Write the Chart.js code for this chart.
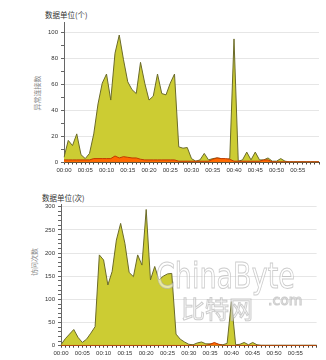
<!DOCTYPE html>
<html>
<head>
<meta charset="utf-8">
<script src="https://cdn.jsdelivr.net/npm/chart.js@4.4.1/dist/chart.umd.min.js"></script>
<style>
  body { margin: 0; background: #fff; width: 326px; height: 360px; overflow: hidden; position: relative; font-family: "Noto Sans CJK SC", sans-serif; }
  .box { position: absolute; left: 0; width: 326px; height: 180px; }
  .unit { position: absolute; font-size: 7.5px; color: #333; white-space: nowrap; }
  .ytitle { position: absolute; font-size: 7px; color: #888; white-space: nowrap; transform: translate(-50%, -50%) rotate(-90deg); }
  .wm { position: absolute; color: rgba(255,255,255,0.55); -webkit-text-stroke: 1px rgba(170,170,170,0.6); white-space: nowrap; pointer-events: none; line-height: 1; }
</style>
</head>
<body>
<div class="unit" style="left:45px;top:9px">数据单位(个)</div>
<div class="ytitle" style="left:37px;top:93px">异常连接数</div>
<div class="box" style="top:0"><canvas id="connChart"></canvas></div>

<div class="unit" style="left:42px;top:192px">数据单位(次)</div>
<div class="ytitle" style="left:34px;top:262px">访问次数</div>
<div class="box" style="top:180px"><canvas id="visitChart"></canvas></div>

<div class="wm" style="left:156px;top:255px;font:36px 'DejaVu Sans', sans-serif;transform:scaleX(0.75);transform-origin:left top">ChinaByte</div>
<div class="wm" style="left:181px;top:290px;font:24px 'Noto Sans CJK SC', sans-serif">比特网</div>
<div class="wm" style="left:268px;top:292px;font:14px 'DejaVu Sans', sans-serif">.com</div>

<script>
// 每分钟一个点, 00:00 - 01:00
const minutes = [
  '00:00','00:01','00:02','00:03','00:04','00:05','00:06','00:07','00:08','00:09',
  '00:10','00:11','00:12','00:13','00:14','00:15','00:16','00:17','00:18','00:19',
  '00:20','00:21','00:22','00:23','00:24','00:25','00:26','00:27','00:28','00:29',
  '00:30','00:31','00:32','00:33','00:34','00:35','00:36','00:37','00:38','00:39',
  '00:40','00:41','00:42','00:43','00:44','00:45','00:46','00:47','00:48','00:49',
  '00:50','00:51','00:52','00:53','00:54','00:55','00:56','00:57','00:58','00:59',
  '01:00'
];
const tickLabels = ['00:00','00:05','00:10','00:15','00:20','00:25','00:30','00:35','00:40','00:45','00:50','00:55'];

// 上图: 异常连接数 (个)
const connMain = [
  4, 17, 13, 22, 6, 3, 7, 22, 45, 61,
  68, 48, 84, 98, 79, 62, 56, 53, 77, 61,
  48, 51, 68, 53, 52, 61, 68, 12, 11, 11.5,
  3, 1, 2, 7, 2, 3, 3.5, 3, 2, 3,
  95, 1, 2, 8, 2, 8, 2, 2, 3.5, 1,
  1, 3, 1, 0.5, 0.5, 0.5, 0.5, 0.5, 0.5, 0.5,
  0.5
];
const connSub = [
  2, 2, 2, 2, 2, 2, 2, 3, 3, 3,
  3, 3, 5, 3.5, 4.5, 4, 3.5, 3.5, 2.5, 2,
  2, 2, 2, 2, 2, 2, 2, 1, 1, 1,
  1, 1, 1, 1, 1, 2.5, 3.5, 3, 3, 2.5,
  1, 1, 1, 1, 1, 1, 1, 2, 2, 0.5,
  0.5, 0.5, 0.5, 0.5, 0.5, 0.5, 0.5, 0.5, 0.5, 0.5,
  0.5
];

// 下图: 访问次数 (次)
const visitMain = [
  2, 15, 25, 35, 18, 7, 14, 27, 41, 196,
  185, 131, 160, 228, 264, 221, 158, 149, 196, 174,
  294, 142, 171, 142, 150, 155, 156, 25, 14, 8,
  3, 2, 6, 8, 4, 4, 5, 3, 2, 5,
  95, 2, 3, 7, 2, 7, 2, 1, 1, 1,
  1, 1, 1, 1, 1, 1, 1, 1, 1, 1,
  1
];
const visitSub = [
  0.5, 0.5, 0.5, 0.5, 0.5, 0.5, 0.5, 0.5, 0.5, 0.5,
  0.5, 0.5, 0.5, 0.5, 0.5, 0.5, 0.5, 0.5, 0.5, 0.5,
  0.5, 0.5, 0.5, 0.5, 0.5, 0.5, 0.5, 0.5, 0.5, 0.5,
  0.5, 0.5, 0.5, 0.5, 0.5, 3, 7, 3, 0.5, 0.5,
  0.5, 0.5, 0.5, 0.5, 0.5, 0.5, 0.5, 0.5, 0.5, 0.5,
  0.5, 0.5, 0.5, 0.5, 0.5, 0.5, 0.5, 0.5, 0.5, 0.5,
  0.5
];

Chart.defaults.font.family = '"Liberation Sans", Arial, sans-serif';
Chart.defaults.animation = false;

function drawArea(id, main, sub, opt) {
  new Chart(document.getElementById(id), {
    type: 'line',
    data: {
      labels: minutes,
      datasets: [
        { data: sub, order: 0, fill: 'origin', borderColor: '#c03a00', backgroundColor: '#ff6a00', borderWidth: 1, pointRadius: 0, tension: 0 },
        { data: main, order: 1, fill: 'origin', borderColor: '#6b6b2a', backgroundColor: '#cccc33', borderWidth: 1, pointRadius: 0, tension: 0 }
      ]
    },
    options: {
      responsive: false,
      maintainAspectRatio: false,
      layout: { padding: { left: 0, right: opt.right, top: opt.top, bottom: 0 } },
      plugins: { legend: { display: false }, tooltip: { enabled: false } },
      scales: {
        x: {
          afterFit: (s) => { s.height = opt.xh; },
          grid: { color: 'transparent', tickColor: '#444', tickLength: 2, drawOnChartArea: false },
          border: { color: '#444', width: 1 },
          ticks: {
            autoSkip: false, maxRotation: 0, padding: 2, color: '#333', font: { size: 6 },
            callback: (v, i) => tickLabels.includes(minutes[i]) ? minutes[i] : ''
          }
        },
        y: {
          min: 0, max: opt.max,
          afterFit: (s) => { s.width = opt.left; },
          grid: {
            color: (c) => (c.tick && c.tick.value % opt.major === 0 && c.tick.value > 0) ? '#e6e6e6' : 'transparent',
            tickColor: '#666', tickLength: 3
          },
          border: { color: '#666', width: 1 },
          ticks: {
            stepSize: opt.minor, includeBounds: false, autoSkip: false, maxTicksLimit: 100,
            padding: 3, color: '#333', font: { size: 6 },
            callback: (v) => v % opt.major === 0 ? v : ''
          }
        }
      }
    }
  });
}

function setSize(id) {
  const c = document.getElementById(id);
  c.width = 326; c.height = 180;
  c.style.width = '326px'; c.style.height = '180px';
}
setSize('connChart');
setSize('visitChart');

drawArea('connChart', connMain, connSub, { max: 108, major: 20, minor: 10, left: 64, right: 7, top: 22, xh: 17.5 });
drawArea('visitChart', visitMain, visitSub, { max: 305, major: 50, minor: 10, left: 61, right: 9.4, top: 24.4, xh: 14.3 });
</script>
</body>
</html>
